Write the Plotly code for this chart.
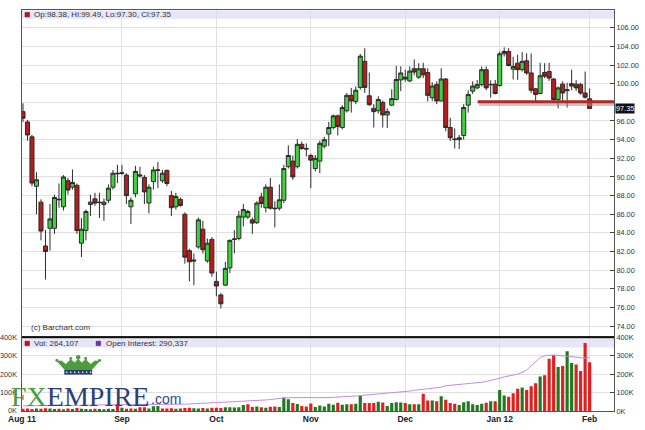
import plotly.graph_objects as go
import pandas as pd

# ---------------- data ----------------
holidays = ["2011-09-05", "2011-11-24", "2011-12-26", "2012-01-02", "2012-01-16"]
dates = [d.strftime("%Y-%m-%d") for d in pd.bdate_range("2011-08-02", "2012-02-01")
         if d.strftime("%Y-%m-%d") not in holidays]

opens = [
    # Aug
    97.0, 95.9, 94.3, 89.0, 87.3, 82.6, 84.5, 84.5, 87.55, 86.8, 89.6, 88.9, 89.1, 82.9, 84.25, 87.05, 87.65, 87.3, 87.05, 87.5, 88.9, 90.4,
    # Sep
    90.45, 90.2, 86.8, 88.2, 90.1, 89.95, 87.2, 89.5, 90.7, 89.6, 90.7, 88.0, 86.8, 87.6, 86.0, 82.1, 81.1, 82.5, 84.4, 81.0, 83.3,
    # Oct
    78.8, 77.35, 78.4, 80.25, 83.3, 83.4, 85.7, 85.7, 85.4, 85.1, 87.85, 86.7, 88.9, 86.65, 86.65, 87.5, 91.1, 91.7, 91.1, 93.5, 93.05,
    # Nov
    92.3, 90.9, 91.7, 93.3, 94.6, 95.3, 96.55, 95.3, 97.1, 98.75, 98.1, 99.6, 102.4, 98.7, 97.35, 97.1, 98.0, 96.65, 97.7, 98.3, 100.4,
    # Dec
    100.7, 100.3, 101.6, 100.7, 101.6, 101.2, 98.5, 99.9, 98.15, 100.5, 95.3, 94.0, 94.0, 94.45, 97.7, 99.2, 99.55, 99.9, 101.5, 99.9, 99.95,
    # Jan
    99.8, 103.2, 103.45, 101.55, 102.2, 101.5, 102.45, 101.15, 99.45, 98.95, 101.2, 101.3, 100.5, 98.3, 99.95, 99.25, 100.0, 99.95, 99.9, 99.0,
    # Feb
    98.38,
]
highs = [
    97.9, 96.1, 94.5, 90.5, 87.6, 84.3, 87.1, 88.1, 89.3, 90.2, 89.9, 90.8, 89.3, 85.6, 86.5, 88.1, 88.3, 88.3, 87.7, 89.2, 90.75, 91.3,
    91.3, 90.4, 87.8, 91.2, 91.1, 90.2, 89.2, 91.1, 91.6, 90.75, 90.8, 88.5, 88.3, 87.8, 86.2, 82.3, 81.8, 85.65, 85.3, 83.4, 83.55,
    79.85, 77.55, 80.9, 83.3, 84.3, 86.35, 87.1, 86.5, 85.65, 87.4, 88.3, 89.2, 89.9, 87.4, 89.2, 91.3, 93.4, 92.3, 94.05, 93.8, 93.6,
    92.5, 92.35, 93.9, 94.3, 95.9, 96.7, 96.7, 97.7, 99.0, 99.55, 99.7, 103.2, 103.8, 101.2, 97.8, 98.65, 98.2, 97.35, 99.4, 101.9, 101.85,
    101.5, 101.85, 102.6, 102.2, 102.25, 101.65, 100.15, 100.25, 101.65, 100.6, 96.35, 95.2, 94.5, 97.8, 99.3, 100.25, 100.4, 101.85, 101.85, 100.35, 100.4,
    103.45, 103.9, 103.8, 102.9, 103.1, 103.4, 103.25, 103.25, 99.55, 102.25, 102.2, 102.25, 100.6, 99.7, 100.25, 100.1, 101.5, 100.4, 100.1, 101.3,
    99.49,
]
lows = [
    95.9, 93.9, 89.0, 86.0, 83.2, 79.0, 82.1, 83.9, 86.7, 86.4, 88.1, 88.65, 83.9, 81.4, 83.2, 85.8, 86.9, 85.6, 85.3, 87.2, 88.65, 89.35,
    90.2, 87.1, 84.95, 87.8, 89.9, 87.1, 86.1, 88.65, 88.8, 89.35, 89.0, 85.8, 86.5, 86.8, 80.7, 78.8, 78.4, 82.3, 81.8, 80.8, 79.3,
    77.2, 75.9, 78.3, 79.7, 81.8, 83.2, 84.7, 85.5, 83.9, 84.95, 86.7, 86.2, 86.5, 84.6, 86.4, 87.2, 90.9, 89.7, 90.9, 92.9, 92.2,
    88.8, 90.6, 90.4, 93.05, 93.3, 95.1, 94.45, 95.1, 96.9, 96.9, 97.8, 99.35, 99.0, 97.6, 95.3, 96.8, 95.3, 95.25, 97.6, 98.2, 99.2,
    100.2, 100.15, 100.9, 100.5, 100.6, 98.1, 98.15, 97.8, 98.1, 94.9, 93.85, 93.05, 93.0, 94.0, 96.9, 98.9, 99.4, 99.7, 99.3, 98.5, 98.85,
    99.7, 102.9, 101.85, 100.45, 100.4, 101.3, 100.95, 99.0, 97.95, 98.85, 100.6, 100.3, 98.05, 97.35, 97.95, 97.45, 99.3, 99.2, 98.8, 98.4,
    97.30,
]
closes = [
    96.3, 94.5, 89.35, 89.7, 84.2, 82.0, 85.5, 87.8, 87.6, 90.0, 88.6, 89.4, 84.25, 84.4, 86.3, 87.3, 87.2, 87.25, 87.3, 88.8, 90.4, 90.35,
    90.4, 88.0, 87.5, 90.6, 90.2, 88.4, 88.9, 90.75, 90.75, 90.4, 89.3, 86.7, 87.9, 86.95, 81.4, 80.9, 81.0, 85.4, 82.2, 82.9, 79.7,
    78.3, 76.4, 80.2, 83.2, 83.35, 85.8, 86.5, 86.3, 85.05, 87.2, 87.15, 88.9, 86.65, 86.6, 87.55, 90.9, 92.3, 90.0, 93.5, 93.05, 93.0,
    91.8, 92.0, 93.6, 94.0, 95.3, 96.55, 95.4, 97.45, 98.75, 98.15, 99.3, 102.95, 99.6, 97.75, 97.0, 98.3, 96.65, 97.0, 98.4, 100.45, 101.15,
    100.5, 101.35, 101.25, 101.6, 100.95, 98.75, 99.75, 98.15, 100.5, 95.3, 94.2, 94.05, 94.2, 97.45, 98.85, 99.75, 99.9, 101.5, 99.55, 99.9, 98.95,
    103.2, 103.45, 101.95, 101.85, 101.5, 102.4, 101.15, 99.3, 98.85, 100.85, 100.8, 100.6, 98.3, 99.55, 99.0, 99.35, 99.75, 99.55, 99.0, 98.55,
    97.35,
]
volume_k = [
    12, 13, 11, 14, 12, 15, 13, 11, 12, 10, 13, 11, 16, 12, 11, 10, 12, 11, 10, 12, 11, 40,
    18, 12, 14, 12, 21, 20, 13, 26, 27, 14, 13, 15, 12, 14, 16, 17, 15, 14, 16, 14, 17,
    18, 16, 20, 21, 19, 20, 32, 36, 22, 24, 20, 18, 23, 25, 22, 73, 64, 43, 38, 27, 25,
    41, 22, 30, 25, 39, 34, 45, 34, 36, 36, 39, 84, 43, 43, 43, 50, 46, 27, 43, 48, 46,
    43, 36, 36, 36, 93, 57, 57, 53, 80, 61, 43, 39, 32, 48, 53, 36, 32, 39, 45, 53, 53,
    114, 84, 77, 96, 121, 128, 114, 134, 150, 187, 194, 283, 303, 239, 244, 324, 260, 253, 217, 369,
    264.107,
]
open_interest_k = [
    28, 28, 29, 29, 29, 30, 30, 30, 31, 31, 31, 31, 32, 32, 32, 32, 33, 33, 33, 33, 34, 34,
    34, 34, 34, 35, 35, 35, 35, 35, 35, 35, 36, 36, 36, 36, 37, 38, 40, 42, 43, 44, 45,
    46, 47, 48, 49, 50, 51, 52, 53, 54, 56, 58, 60, 62, 66, 69, 71, 72, 73, 73, 72, 73,
    73, 72, 71, 72, 73, 74, 75, 76, 77, 78, 80, 83, 86, 88, 90, 91, 93, 96, 99, 101, 103,
    106, 108, 112, 116, 119, 121, 123, 126, 130, 137, 139, 141, 143, 145, 146, 149, 152, 156, 160, 165, 170,
    178, 185, 190, 196, 200, 210, 222, 245, 268, 290, 300, 303, 304, 302, 300, 296, 294, 292, 289, 287,
    290.337,
]
support_level = 98.05
support_start = "2011-12-27"
month_labels = ["Sep", "Oct", "Nov", "Dec", "Jan 12", "Feb"]
first_label = "Aug 11"
price_ticks = list(range(74, 107, 2))
volume_ticks = [0, 100, 200, 300, 400]

n = len(dates)
assert all(len(a) == n for a in (opens, highs, lows, closes, volume_k, open_interest_k)), n

# ---------------- geometry helpers ----------------
W, H = 645, 430
ML, MR, MT, MB = 22, 28, 6, 16
PW, PH = W - ML - MR, H - MT - MB


def pxx(x):
    return (x - ML) / PW


def pxy(y):
    return (H - MB - y) / PH


split = pxy(339)
xs = list(range(n))
month_idx = [i for i in range(1, n) if dates[i][:7] != dates[i - 1][:7]]
x_range = [-0.22, 131.42]

up_col, dn_col = "#1f7a1f", "#dd2020"
vol_colors = []
for i in range(n):
    prev = closes[i - 1] if i > 0 else opens[i]
    vol_colors.append(up_col if closes[i] >= prev else dn_col)

fig = go.Figure()
fig.add_trace(go.Candlestick(
    x=xs, open=opens, high=highs, low=lows, close=closes,
    increasing=dict(fillcolor="#3ed23e", line=dict(color="#2b2b2b", width=1)),
    decreasing=dict(fillcolor="#b81c1c", line=dict(color="#2b2b2b", width=1)),
    xaxis="x", yaxis="y", showlegend=False, hoverinfo="skip",
))
fig.add_trace(go.Bar(
    x=xs, y=[v * 1000 for v in volume_k], marker=dict(color=vol_colors, line=dict(width=0)),
    xaxis="x2", yaxis="y2", showlegend=False, hoverinfo="skip",
))
fig.add_trace(go.Scatter(
    x=xs, y=[v * 1000 for v in open_interest_k], mode="lines",
    line=dict(color="#c28ddb", width=1), xaxis="x2", yaxis="y2",
    showlegend=False, hoverinfo="skip",
))

grid = "#e0e0e0"
axfont = dict(family="Liberation Sans, Arial", size=7.3, color="#333")
fig.update_layout(
    width=W, height=H, margin=dict(l=ML, r=MR, t=MT, b=MB),
    paper_bgcolor="white", plot_bgcolor="white",
    boxgap=0.1, boxgroupgap=0, bargap=0.3,
    xaxis=dict(domain=[0, 1], anchor="y", range=x_range, tickvals=month_idx,
               showticklabels=False, ticks="", showgrid=True, gridcolor=grid,
               showline=True, linecolor="#555", mirror=True, zeroline=False,
               rangeslider=dict(visible=False)),
    yaxis=dict(domain=[split, 1], anchor="x", range=[72.81, 107.90], side="right",
               tickvals=price_ticks,
               ticktext=["" if abs(v - closes[-1]) < 1.2 else "%.2f" % v for v in price_ticks],
               ticks="inside", ticklen=4,
               tickcolor="#444", tickfont=axfont, showgrid=True, gridcolor=grid,
               showline=True, linecolor="#555", mirror=True, zeroline=False),
    xaxis2=dict(domain=[0, 1], anchor="y2", range=x_range, tickvals=month_idx,
                ticktext=["<b>%s</b>" % t for t in month_labels],
                tickfont=dict(family="Liberation Sans, Arial", size=8.5, color="#222"),
                ticks="", showgrid=True, gridcolor=grid, showline=True,
                linecolor="#555", mirror=True, zeroline=False),
    yaxis2=dict(domain=[0, split], anchor="x2", range=[0, 400000], side="right",
                tickvals=[v * 1000 for v in volume_ticks],
                ticktext=["%dK" % v for v in volume_ticks], ticks="inside", ticklen=4,
                tickcolor="#444", tickfont=axfont, showgrid=True, gridcolor=grid,
                showline=True, linecolor="#555", mirror=True, zeroline=False),
)

shapes = []
# header bands
shapes.append(dict(type="rect", xref="paper", yref="paper", x0=0, x1=1, y0=pxy(15), y1=pxy(6.5),
                   fillcolor="#e6e6f8", line=dict(width=0), layer="below"))
shapes.append(dict(type="rect", xref="paper", yref="paper", x0=0, x1=1, y0=pxy(349.5), y1=pxy(340.5),
                   fillcolor="#e6e6f8", line=dict(width=0), layer="below"))
# legend squares
shapes.append(dict(type="rect", xref="paper", yref="paper", x0=pxx(25), x1=pxx(29.5), y0=pxy(13), y1=pxy(8.5),
                   fillcolor="#c01515", line=dict(color="#700", width=0.5)))
shapes.append(dict(type="rect", xref="paper", yref="paper", x0=pxx(25), x1=pxx(29.5), y0=pxy(347.5), y1=pxy(343),
                   fillcolor="#c01515", line=dict(color="#700", width=0.5)))
shapes.append(dict(type="rect", xref="paper", yref="paper", x0=pxx(96.5), x1=pxx(101), y0=pxy(347.5), y1=pxy(343),
                   fillcolor="#7a2fb8", line=dict(color="#402060", width=0.5)))
# separator
shapes.append(dict(type="line", xref="paper", yref="paper", x0=0, x1=1, y0=split, y1=split,
                   line=dict(color="#111", width=2)))
# support line with shadow
sx = dates.index(support_start) - 0.9
shapes.append(dict(type="line", xref="x", yref="y", x0=sx + 0.3, x1=x_range[1], y0=support_level - 0.28,
                   y1=support_level - 0.28, line=dict(color="rgba(150,150,150,0.55)", width=3)))
shapes.append(dict(type="line", xref="x", yref="y", x0=sx, x1=x_range[1], y0=support_level,
                   y1=support_level, line=dict(color="#b42828", width=3)))


# crown (watermark)
def pth(pts):
    s = "M %f,%f " % (pxx(pts[0][0]), pxy(pts[0][1]))
    for p in pts[1:]:
        s += "L %f,%f " % (pxx(p[0]), pxy(p[1]))
    return s + "Z"


green = "#4a9c3c"
navy = "#2d4075"
crown = [(65, 372), (57, 363), (62, 363), (66, 366.5), (71, 361.5), (75, 365), (78.5, 361), (82, 365),
         (86, 361.5), (91, 366.5), (95, 363), (100, 363), (92, 372)]
shapes.append(dict(type="path", xref="paper", yref="paper", path=pth(crown), fillcolor=green,
                   line=dict(color=green, width=0.5)))
for (cx, cy, r) in [(78.5, 359.3, 2.3), (71, 360.5, 1.5), (86, 360.5, 1.5), (57, 362.5, 1.5), (100, 362.5, 1.5)]:
    shapes.append(dict(type="circle", xref="paper", yref="paper", x0=pxx(cx - r), x1=pxx(cx + r),
                       y0=pxy(cy + r), y1=pxy(cy - r), fillcolor=green, line=dict(width=0)))
shapes.append(dict(type="rect", xref="paper", yref="paper", x0=pxx(64.5), x1=pxx(92.5), y0=pxy(377), y1=pxy(372),
                   fillcolor=navy, line=dict(width=0)))
for dx in range(67, 92, 4):
    shapes.append(dict(type="circle", xref="paper", yref="paper", x0=pxx(dx - 0.8), x1=pxx(dx + 0.8),
                       y0=pxy(375.3), y1=pxy(373.7), fillcolor="white", line=dict(width=0)))

fig.update_layout(shapes=shapes)

small = dict(family="Liberation Sans, Arial", size=8, color="#333")
ann = []
ann.append(dict(xref="paper", yref="paper", x=pxx(32), y=pxy(11), xanchor="left", yanchor="middle",
                text="Op:%.2f, Hi:%.2f, Lo:%.2f, Cl:%.2f" % (opens[-1], highs[-1], lows[-1], closes[-1]),
                showarrow=False, font=small))
ann.append(dict(xref="paper", yref="paper", x=pxx(32), y=pxy(345.3), xanchor="left", yanchor="middle",
                text="Vol: {:,}".format(round(volume_k[-1] * 1000)), showarrow=False, font=small))
ann.append(dict(xref="paper", yref="paper", x=pxx(104), y=pxy(345.3), xanchor="left", yanchor="middle",
                text="Open Interest: {:,}".format(round(open_interest_k[-1] * 1000)), showarrow=False, font=small))
ann.append(dict(xref="paper", yref="paper", x=pxx(29), y=pxy(329), xanchor="left", yanchor="middle",
                text="(c) Barchart.com", showarrow=False, font=small))
ann.append(dict(xref="paper", yref="y", x=1, y=closes[-1], xanchor="left", yanchor="middle", xshift=1,
                text="%.2f" % closes[-1], showarrow=False, bgcolor="#111", borderpad=0,
                font=dict(family="Liberation Sans, Arial", size=7.3, color="white")))
for v in volume_ticks:
    ann.append(dict(xref="paper", yref="y2", x=pxx(19), y=v * 1000, xanchor="right", yanchor="middle",
                    text="%dK" % v, showarrow=False, font=axfont))
ann.append(dict(xref="paper", yref="paper", x=0, y=pxy(422), xanchor="center", yanchor="middle",
                text="<b>%s</b>" % first_label, showarrow=False,
                font=dict(family="Liberation Sans, Arial", size=8.5, color="#222")))
ann.append(dict(xref="paper", yref="paper", x=pxx(9), y=pxy(399), xanchor="left", yanchor="middle",
                text="<span style='color:%s'>FX</span><span style='color:%s'>EMPIRE</span>" % (green, navy),
                showarrow=False, font=dict(family="Liberation Serif, Times New Roman", size=28)))
ann.append(dict(xref="paper", yref="paper", x=pxx(150), y=pxy(402), xanchor="left", yanchor="middle",
                text=".com", showarrow=False,
                font=dict(family="Liberation Sans, Arial", size=14, color="#2f4a88")))
fig.update_layout(annotations=ann)

fig.write_html("out.html", config={"displayModeBar": False},
               post_script="document.body.style.margin='0';document.body.style.padding='0';")
